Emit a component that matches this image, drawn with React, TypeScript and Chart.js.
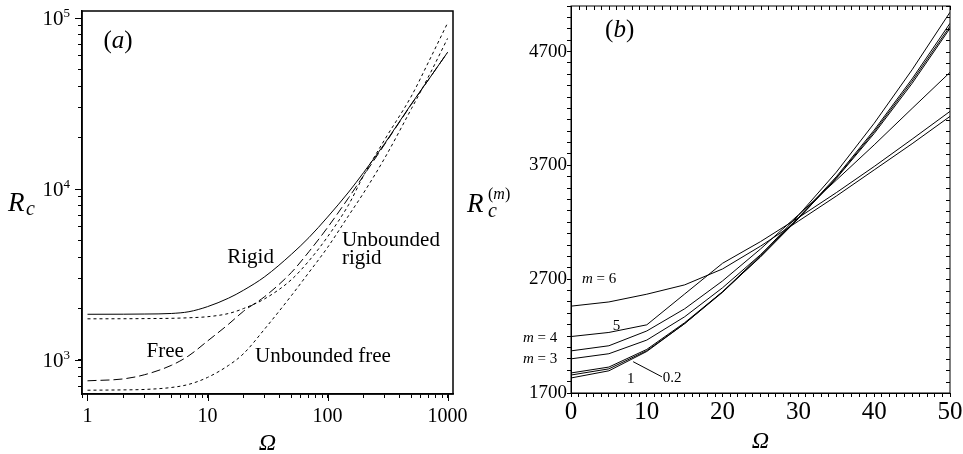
import React, { useEffect, useRef } from 'react';
import { Chart, registerables } from 'chart.js';
Chart.register(...registerables);

const SERIF = '"Liberation Serif", "Times New Roman", "DejaVu Serif", serif';

// ---------- Panel (a) data ----------
const omegaA = [1, 2, 3, 5, 7, 10, 15, 20, 30, 50, 70, 100, 150, 200, 300, 500, 700, 1000];
const rigidA = [1850, 1852, 1856, 1870, 1915, 2050, 2300, 2560, 3070, 4150, 5200, 6850, 9600, 12500, 18500, 31500, 44000, 63000];
const freeA = [755, 775, 820, 930, 1060, 1290, 1620, 1930, 2350, 3250, 4300, 5950, 8900, 12000, 18300, 31300, 44000, 63000];
const unbRigidA = [1740, 1742, 1745, 1752, 1765, 1790, 1870, 2000, 2280, 2950, 3800, 5250, 8100, 12000, 19500, 35000, 56000, 93500];
const unbFreeA = [665, 668, 672, 690, 720, 790, 930, 1090, 1520, 2380, 3250, 4550, 7000, 9500, 15200, 29500, 46000, 76000];

const xTicksA = [1, 10, 100, 1000];
const yTicksA = [1000, 10000, 100000];
const yTickExpA = ['3', '4', '5'];

// ---------- Panel (b) data ----------
const omegaB = [0, 5, 10, 15, 20, 25, 30, 35, 40, 45, 50];
const rcM1 = [1832, 1895, 2065, 2310, 2590, 2910, 3260, 3640, 4070, 4540, 5045];
const rcM02 = [1858, 1912, 2072, 2310, 2585, 2900, 3240, 3600, 4010, 4460, 4948];
const rcM2 = [1876, 1928, 2083, 2318, 2590, 2895, 3232, 3590, 3995, 4440, 4922];
const rcM3 = [2000, 2045, 2165, 2370, 2625, 2915, 3235, 3585, 3980, 4420, 4904];
const rcM4 = [2070, 2115, 2245, 2440, 2685, 2965, 3265, 3570, 3880, 4200, 4517];
const rcM5 = [2196, 2232, 2299, 2570, 2840, 3030, 3240, 3460, 3690, 3930, 4174];
const rcM6 = [2463, 2500, 2568, 2650, 2790, 2990, 3210, 3430, 3660, 3890, 4130];
const leaderX = [8.2, 12.0];
const leaderY = [1975, 1842];

const xTicksB = [0, 10, 20, 30, 40, 50];
const yTicksB = [1700, 2700, 3700, 4700];

type Part = { t: string; style?: string; size: number; dy?: number };

function drawRich(ctx: CanvasRenderingContext2D, x: number, y: number, parts: Part[]) {
  let cx = x;
  for (const p of parts) {
    ctx.font = `${p.style || 'normal'} ${p.size}px ${SERIF}`;
    ctx.fillText(p.t, cx, y + (p.dy || 0));
    cx += ctx.measureText(p.t).width;
  }
}

function richWidth(ctx: CanvasRenderingContext2D, parts: Part[]) {
  let w = 0;
  for (const p of parts) {
    ctx.font = `${p.style || 'normal'} ${p.size}px ${SERIF}`;
    w += ctx.measureText(p.t).width;
  }
  return w;
}

// 1-2-...-9 tick positions of a log axis between min and max
function logTicks(min: number, max: number) {
  const out: { value: number; major: boolean }[] = [];
  for (let e = Math.floor(Math.log10(min)); e <= Math.ceil(Math.log10(max)); e++) {
    for (let k = 1; k <= 9; k++) {
      const v = Math.round(k * Math.pow(10, e) * 1e6) / 1e6;
      if (v >= min && v <= max) out.push({ value: v, major: k === 1 });
    }
  }
  return out;
}

const annA: { x: number; y: number; parts: Part[] }[] = [
  { x: 1.36, y: 66800, parts: [{ t: '(', size: 25 }, { t: 'a', style: 'italic', size: 25 }, { t: ')', size: 25 }] },
  { x: 14.6, y: 3690, parts: [{ t: 'Rigid', size: 21 }] },
  { x: 131.8, y: 4640, parts: [{ t: 'Unbounded', size: 21 }] },
  { x: 131.8, y: 3640, parts: [{ t: 'rigid', size: 21 }] },
  { x: 3.1, y: 1041, parts: [{ t: 'Free', size: 21 }] },
  { x: 24.9, y: 973, parts: [{ t: 'Unbounded free', size: 21 }] },
];

const annB: { x: number; y: number; parts: Part[] }[] = [
  { x: 4.5, y: 4831, parts: [{ t: '(', size: 25 }, { t: 'b', style: 'italic', size: 25 }, { t: ')', size: 25 }] },
  { x: 1.45, y: 2665, parts: [{ t: 'm', style: 'italic', size: 15 }, { t: ' = 6', size: 15 }] },
  { x: 5.5, y: 2253, parts: [{ t: '5', size: 15 }] },
  { x: -6.33, y: 2147, parts: [{ t: 'm', style: 'italic', size: 15 }, { t: ' = 4', size: 15 }] },
  { x: -6.33, y: 1963, parts: [{ t: 'm', style: 'italic', size: 15 }, { t: ' = 3', size: 15 }] },
  { x: 7.4, y: 1788, parts: [{ t: '1', size: 15 }] },
  { x: 12.1, y: 1796, parts: [{ t: '0.2', size: 15 }] },
];

const near = (arr: number[], v: number) => arr.findIndex((t) => Math.abs(t - v) <= Math.abs(t) * 1e-6 + 1e-9);

const plugA = {
  id: 'decorA',
  afterDraw(chart: any) {
    const { ctx, chartArea: ca, scales } = chart;
    const sx = scales.x, sy = scales.y;
    ctx.save();
    ctx.strokeStyle = '#000';
    ctx.lineWidth = 1.5;
    ctx.strokeRect(ca.left, ca.top, ca.right - ca.left, ca.bottom - ca.top);
    ctx.lineWidth = 1;
    ctx.beginPath();
    for (const v of xTicksA) {
      const px = Math.round(sx.getPixelForValue(v)) + 0.5;
      ctx.moveTo(px, ca.bottom);
      ctx.lineTo(px, ca.bottom + 7);
    }
    for (const v of yTicksA) {
      const py = Math.round(sy.getPixelForValue(v)) + 0.5;
      ctx.moveTo(ca.left - 7, py);
      ctx.lineTo(ca.left, py);
    }
    ctx.stroke();
    ctx.fillStyle = '#000';
    ctx.textAlign = 'left';
    ctx.textBaseline = 'alphabetic';
    // y tick labels 10^n
    yTicksA.forEach((v, i) => {
      const py = sy.getPixelForValue(v);
      const parts: Part[] = [{ t: '10', size: 21 }, { t: yTickExpA[i], size: 13, dy: -8 }];
      const w = richWidth(ctx, parts);
      drawRich(ctx, ca.left - 12 - w, py + 7, parts);
    });
    for (const a of annA) drawRich(ctx, sx.getPixelForValue(a.x), sy.getPixelForValue(a.y), a.parts);
    // axis titles
    drawRich(ctx, 8, 211, [{ t: 'R', style: 'italic', size: 27 }]);
    drawRich(ctx, 26, 215, [{ t: 'c', style: 'italic', size: 20 }]);
    ctx.textAlign = 'center';
    ctx.font = `italic 24px ${SERIF}`;
    ctx.fillText('\u03A9', (ca.left + ca.right) / 2, 450);
    ctx.restore();
  },
};

const plugB = {
  id: 'decorB',
  afterDraw(chart: any) {
    const { ctx, chartArea: ca, scales } = chart;
    const sx = scales.x, sy = scales.y;
    ctx.save();
    ctx.strokeStyle = '#000';
    ctx.lineWidth = 1;
    ctx.strokeRect(ca.left, ca.top, ca.right - ca.left, ca.bottom - ca.top);
    ctx.beginPath();
    for (const t of sx.ticks) {
      const px = Math.round(sx.getPixelForValue(t.value)) + 0.5;
      ctx.moveTo(px, ca.top);
      ctx.lineTo(px, ca.top + 4);
    }
    for (const t of sy.ticks) {
      const py = Math.round(sy.getPixelForValue(t.value)) + 0.5;
      ctx.moveTo(ca.right - 4, py);
      ctx.lineTo(ca.right, py);
    }
    ctx.stroke();
    ctx.fillStyle = '#000';
    ctx.textAlign = 'left';
    ctx.textBaseline = 'alphabetic';
    for (const a of annB) drawRich(ctx, sx.getPixelForValue(a.x), sy.getPixelForValue(a.y), a.parts);
    drawRich(ctx, 12, 212, [{ t: 'R', style: 'italic', size: 27 }]);
    drawRich(ctx, 33, 217, [{ t: 'c', style: 'italic', size: 20 }]);
    drawRich(ctx, 33, 199, [{ t: '(', size: 16 }, { t: 'm', style: 'italic', size: 16 }, { t: ')', size: 16 }]);
    ctx.textAlign = 'center';
    ctx.font = `italic 24px ${SERIF}`;
    ctx.fillText('\u03A9', (ca.left + ca.right) / 2, 448);
    ctx.restore();
  },
};

const pts = (xs: number[], ys: number[]) => xs.map((x, i) => ({ x, y: ys[i] }));

const lineDs = (label: string, xs: number[], ys: number[], dash: number[], smooth: boolean) => ({
  label,
  data: pts(xs, ys),
  borderColor: '#000',
  backgroundColor: '#000',
  borderWidth: 1,
  borderDash: dash,
  pointRadius: 0,
  fill: false,
  tension: 0,
  cubicInterpolationMode: smooth ? 'monotone' : 'default',
});

const fitY = (w: number) => (s: any) => {
  s.width = w;
  s.paddingTop = 0;
  s.paddingBottom = 0;
};
const fitX = (h: number) => (s: any) => {
  s.height = h;
  s.paddingLeft = 0;
  s.paddingRight = 0;
};

function configA(): any {
  return {
    type: 'line',
    data: {
      datasets: [
        lineDs('Rigid', omegaA, rigidA, [], true),
        lineDs('Free', omegaA, freeA, [9, 4], true),
        lineDs('Unbounded rigid', omegaA, unbRigidA, [3, 3], true),
        lineDs('Unbounded free', omegaA, unbFreeA, [3, 3], true),
      ],
    },
    options: {
      responsive: false,
      animation: false,
      devicePixelRatio: 1,
      layout: { padding: { left: 0, top: 11, right: 27, bottom: 0 } },
      plugins: { legend: { display: false }, tooltip: { enabled: false }, title: { display: false } },
      scales: {
        x: {
          type: 'logarithmic',
          min: 0.9,
          max: 1110,
          afterBuildTicks: (s: any) => { s.ticks = logTicks(s.min, s.max); },
          afterFit: fitX(60),
          border: { display: true, color: '#000', width: 1.5 },
          grid: { display: true, drawOnChartArea: false, drawTicks: true, tickLength: 4, color: '#000' },
          ticks: {
            autoSkip: false,
            maxRotation: 0,
            padding: 7,
            color: '#000',
            font: { family: SERIF, size: 20 },
            callback: (v: number) => (near(xTicksA, v) >= 0 ? String(xTicksA[near(xTicksA, v)]) : ''),
          },
        },
        y: {
          type: 'logarithmic',
          min: 632,
          max: 110000,
          afterBuildTicks: (s: any) => { s.ticks = logTicks(s.min, s.max); },
          afterFit: fitY(82),
          border: { display: true, color: '#000', width: 1.5 },
          grid: { display: true, drawOnChartArea: false, drawTicks: true, tickLength: 4, color: '#000' },
          ticks: {
            autoSkip: false,
            padding: 8,
            color: '#000',
            font: { family: SERIF, size: 20 },
            callback: () => '',
          },
        },
      },
    },
    plugins: [plugA],
  };
}

function configB(): any {
  return {
    type: 'line',
    data: {
      datasets: [
        lineDs('m = 0.2', omegaB, rcM02, [], false),
        lineDs('m = 1', omegaB, rcM1, [], false),
        lineDs('m = 2', omegaB, rcM2, [], false),
        lineDs('m = 3', omegaB, rcM3, [], false),
        lineDs('m = 4', omegaB, rcM4, [], false),
        lineDs('m = 5', omegaB, rcM5, [], false),
        lineDs('m = 6', omegaB, rcM6, [], false),
        lineDs('leader', leaderX, leaderY, [], false),
      ],
    },
    options: {
      responsive: false,
      animation: false,
      devicePixelRatio: 1,
      layout: { padding: { left: 0, top: 6, right: 13, bottom: 0 } },
      plugins: { legend: { display: false }, tooltip: { enabled: false }, title: { display: false } },
      scales: {
        x: {
          type: 'linear',
          min: 0,
          max: 50,
          afterFit: fitX(61),
          border: { display: true, color: '#000', width: 1 },
          grid: { display: true, drawOnChartArea: false, drawTicks: true, tickLength: 4, color: '#000' },
          ticks: {
            stepSize: 1,
            autoSkip: false,
            maxRotation: 0,
            padding: 0,
            color: '#000',
            font: { family: SERIF, size: 25 },
            callback: (v: number) => (near(xTicksB, v) >= 0 ? String(xTicksB[near(xTicksB, v)]) : ''),
          },
        },
        y: {
          type: 'linear',
          min: 1700,
          max: 5100,
          afterFit: fitY(116),
          border: { display: true, color: '#000', width: 1 },
          grid: { display: true, drawOnChartArea: false, drawTicks: true, tickLength: 4, color: '#000' },
          ticks: {
            stepSize: 100,
            autoSkip: false,
            padding: 0,
            color: '#000',
            font: { family: SERIF, size: 19 },
            callback: (v: number) => (near(yTicksB, v) >= 0 ? String(yTicksB[near(yTicksB, v)]) : ''),
          },
        },
      },
    },
    plugins: [plugB],
  };
}

export default function App() {
  const refA = useRef<HTMLCanvasElement>(null);
  const refB = useRef<HTMLCanvasElement>(null);
  useEffect(() => {
    const a = new Chart(refA.current as HTMLCanvasElement, configA());
    const b = new Chart(refB.current as HTMLCanvasElement, configB());
    return () => {
      a.destroy();
      b.destroy();
    };
  }, []);
  return (
    <div style={{ position: 'absolute', left: 0, top: 0, width: 963, height: 454, background: '#fff', overflow: 'hidden' }}>
      <canvas ref={refA} width={480} height={454} style={{ position: 'absolute', left: 0, top: 0 }} />
      <canvas ref={refB} width={508} height={454} style={{ position: 'absolute', left: 455, top: 0 }} />
    </div>
  );
}
